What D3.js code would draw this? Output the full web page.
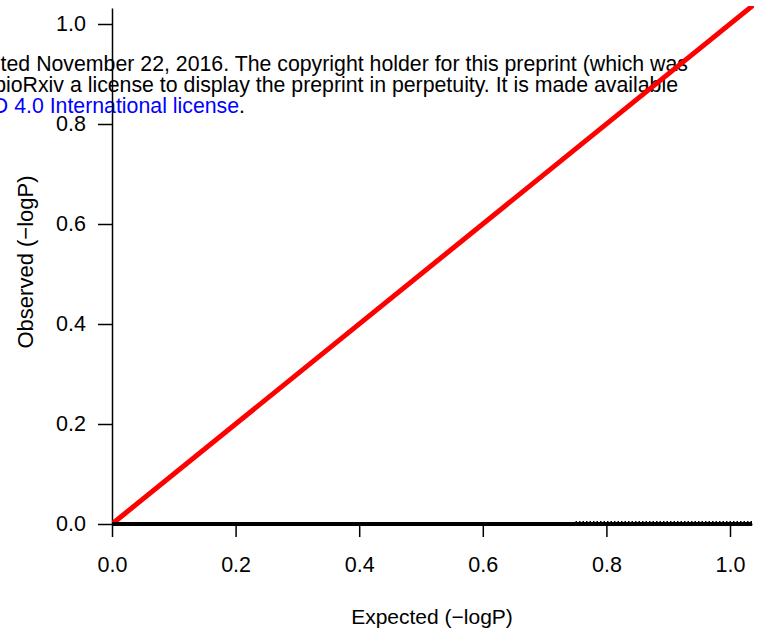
<!DOCTYPE html>
<html lang="en">
<head>
<meta charset="utf-8">
<title>QQ plot</title>
<script src="https://cdnjs.cloudflare.com/ajax/libs/d3/7.8.5/d3.min.js"></script>
<style>
  body { margin: 0; background: #fff; }
  svg text { font-family: "Liberation Sans", Arial, sans-serif; }
</style>
</head>
<body>
<div id="viz"></div>
<script>
// axis ticks
const xTicks = [0.0, 0.2, 0.4, 0.6, 0.8, 1.0];
const yTicks = [0.0, 0.2, 0.4, 0.6, 0.8, 1.0];
// plotted extent of the panel
const xLimits = [0, 1.0356];
const yLimits = [0, 1.032];
// null diagonal (expected = observed)
const diagonal = [[0, 0], [1.04, 1.04]];
// observed points: all sit on 0 across the expected range
const observedLine = [[0, 0], [1.0356, 0]];
const bumpsFrom = 0.75;
// preprint watermark lines (clipped on the left)
const watermark = [
  "ted November 22, 2016. The copyright holder for this preprint (which was",
  "bioRxiv a license to display the preprint in perpetuity. It is made available"
];
const watermarkBlue = "D 4.0 International license";

const width = 767, height = 631;
const plotLeft = 112, plotRight = 752, plotTop = 8, plotBottom = 524;

const svg = d3.select("#viz").append("svg")
  .attr("width", width)
  .attr("height", height);

const x = d3.scaleLinear().domain(xLimits).range([plotLeft, plotRight]);
const y = d3.scaleLinear().domain(yLimits).range([plotBottom, plotTop]);

svg.append("defs").append("clipPath")
  .attr("id", "plot-clip")
  .append("rect")
    .attr("x", plotLeft).attr("y", plotTop - 2)
    .attr("width", plotRight - plotLeft + 2).attr("height", plotBottom - plotTop + 4);

// watermark text sits behind the data
const wm = svg.append("g")
  .attr("font-size", 21.3)
  .attr("fill", "#000")
  .attr("text-anchor", "end");
wm.append("text").attr("x", 688).attr("y", 71).text(watermark[0]);
wm.append("text").attr("x", 678).attr("y", 92).text(watermark[1]);
const w3 = wm.append("text").attr("x", 245).attr("y", 113);
w3.append("tspan").attr("fill", "#0000ff").text(watermarkBlue);
w3.append("tspan").attr("fill", "#000").text(".");

// axes
const xAxis = svg.append("g")
  .attr("transform", `translate(0,${plotBottom})`)
  .call(d3.axisBottom(x).tickValues(xTicks).tickFormat(d3.format(".1f"))
    .tickSize(13).tickSizeOuter(0).tickPadding(20));
const yAxis = svg.append("g")
  .attr("transform", `translate(${plotLeft},0)`)
  .call(d3.axisLeft(y).tickValues(yTicks).tickFormat(d3.format(".1f"))
    .tickSize(14).tickSizeOuter(0).tickPadding(12));

[xAxis, yAxis].forEach(g => {
  g.selectAll("path, line").attr("stroke", "#000").attr("stroke-width", 1.5);
  g.selectAll("text")
    .attr("font-size", 21.5)
    .attr("fill", "#000")
    .attr("font-family", "Liberation Sans, Arial, sans-serif");
});

// red reference line
const line = d3.line().x(d => x(d[0])).y(d => y(d[1]));
svg.append("path")
  .attr("clip-path", "url(#plot-clip)")
  .attr("d", line(diagonal))
  .attr("stroke", "#ff0000")
  .attr("stroke-width", 5)
  .attr("fill", "none");

// observed points (dense, merged into a thick band)
svg.append("path")
  .attr("d", line(observedLine))
  .attr("stroke", "#000")
  .attr("stroke-width", 4)
  .attr("fill", "none");
svg.append("path")
  .attr("d", line([[bumpsFrom, 0], [observedLine[1][0], 0]]))
  .attr("transform", "translate(0,-2.5)")
  .attr("stroke", "#000")
  .attr("stroke-width", 1.2)
  .attr("stroke-dasharray", "1.5,2")
  .attr("fill", "none");

// axis titles
svg.append("text")
  .attr("x", (plotLeft + plotRight) / 2)
  .attr("y", 624)
  .attr("text-anchor", "middle")
  .attr("font-size", 21)
  .text("Expected (\u2212logP)");
svg.append("text")
  .attr("transform", "translate(33,262) rotate(-90)")
  .attr("text-anchor", "middle")
  .attr("font-size", 22)
  .text("Observed (\u2212logP)");
</script>
</body>
</html>
